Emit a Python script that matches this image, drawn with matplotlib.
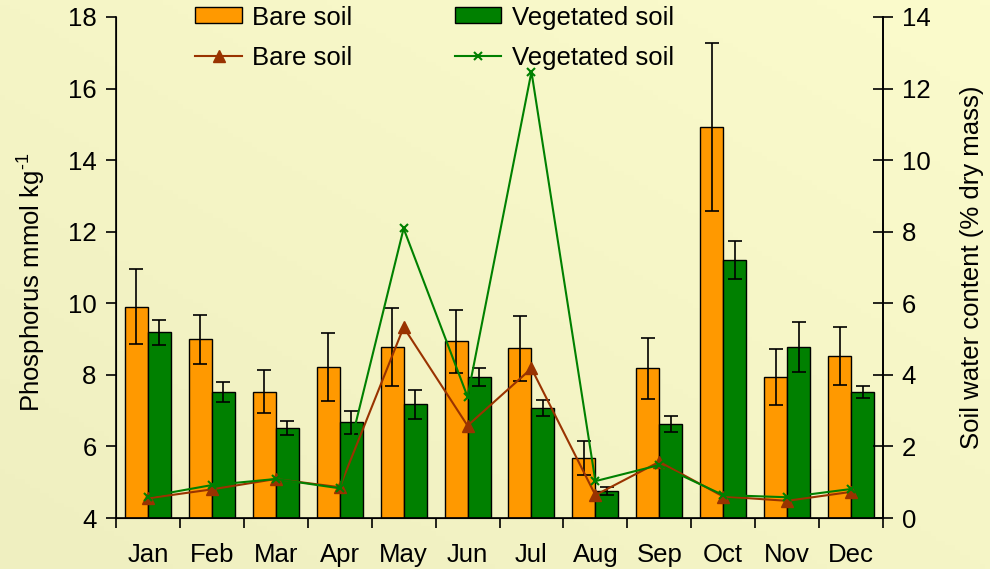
import numpy as np
import matplotlib
matplotlib.use("Agg")
import matplotlib.pyplot as plt
from matplotlib.colors import LinearSegmentedColormap

plt.rcParams['font.family'] = ['Liberation Sans', 'DejaVu Sans']
plt.rcParams['mathtext.fontset'] = 'custom'
plt.rcParams['mathtext.rm'] = 'Liberation Sans'

months = ["Jan", "Feb", "Mar", "Apr", "May", "Jun",
          "Jul", "Aug", "Sep", "Oct", "Nov", "Dec"]

# Phosphorus (mmol kg-1), mean and error
p_bare = [9.90, 8.99, 7.53, 8.23, 8.78, 8.94, 8.74, 5.67, 8.18, 14.92, 7.93, 8.53]
p_bare_err = [1.05, 0.68, 0.60, 0.95, 1.08, 0.88, 0.90, 0.48, 0.85, 2.35, 0.78, 0.80]
p_veg = [9.19, 7.53, 6.52, 6.67, 7.18, 7.93, 7.08, 4.76, 6.63, 11.21, 8.78, 7.53]
p_veg_err = [0.35, 0.28, 0.20, 0.31, 0.40, 0.25, 0.22, 0.12, 0.22, 0.52, 0.70, 0.17]

# Soil water content (% dry mass)
w_bare = [0.55, 0.80, 1.09, 0.86, 5.33, 2.58, 4.18, 0.64, 1.57, 0.60, 0.48, 0.73]
w_veg = [0.60, 0.92, 1.09, 0.83, 8.09, 3.39, 12.47, 1.03, 1.48, 0.64, 0.58, 0.81]

FS = 18.5
W, H = 990, 569
fig = plt.figure(figsize=(W / 100, H / 100), dpi=100)

# soft diagonal background
bg = fig.add_axes([0, 0, 1, 1], zorder=-10)
gx, gy = np.meshgrid(np.linspace(0, 1, 200), np.linspace(0, 1, 120))
grad = (gx * 0.5 + (1 - gy) * 0.5)
cmap = LinearSegmentedColormap.from_list("bgc", ["#EFEFC0", "#FBFBCC"])
bg.imshow(grad, cmap=cmap, aspect="auto", extent=[0, 1, 0, 1], origin="upper")
bg.axis("off")

ax = fig.add_axes([116 / W, 1 - 518 / H, (883 - 116) / W, (518 - 17) / H])
ax.patch.set_alpha(0)

x = np.arange(len(months))
bw = 0.36
err_kw = dict(ecolor="black", elinewidth=1.2, capsize=5, capthick=1.2)
b1 = ax.bar(x - bw / 2, np.array(p_bare) - 4, bw, bottom=4, color="#FF9900",
            edgecolor="black", linewidth=1.0, zorder=2)
b2 = ax.bar(x + bw / 2, np.array(p_veg) - 4, bw, bottom=4, color="#008000",
            edgecolor="black", linewidth=1.0, zorder=2)
ax.errorbar(x - bw / 2, p_bare, yerr=p_bare_err, fmt="none", zorder=3, **err_kw)
ax.errorbar(x + bw / 2, p_veg, yerr=p_veg_err, fmt="none", zorder=3, **err_kw)

ax.set_xlim(-0.5, len(months) - 0.5)
ax.set_ylim(4, 18)
ax.set_yticks(np.arange(4, 19, 2))
ax.set_xticks(x)
ax.set_xticklabels(months)
ax.set_xticks(np.arange(-0.5, len(months), 1.0), minor=True)
ax.tick_params(axis="x", which="major", length=0, pad=18, labelsize=FS)
ax.tick_params(axis="x", which="minor", length=7, width=1.2, direction="out")
ax.tick_params(axis="y", length=7, width=1.2, direction="out", pad=7, labelsize=FS)
ax.spines["top"].set_visible(False)
for s in ("left", "bottom", "right"):
    ax.spines[s].set_linewidth(1.2)
ax.set_ylabel(r"Phosphorus mmol kg$^{\mathregular{\text{-1}}}$", fontsize=FS)
ax.yaxis.set_label_coords(-0.0905, 0.47)

ax2 = ax.twinx()
ax2.set_ylim(0, 14)
ax2.set_yticks(np.arange(0, 15, 2))
ax2.tick_params(axis="y", length=15, width=1.2, direction="inout", pad=6, labelsize=FS)
ax2.spines["top"].set_visible(False)
ax2.spines["right"].set_linewidth(1.2)
ax2.set_ylabel("Soil water content (% dry mass)", fontsize=FS, labelpad=21)

l1, = ax2.plot(x, w_bare, color="#993300", linewidth=1.5, marker="^",
               markersize=9, markerfacecolor="#993300", markeredgecolor="#993300")
l2, = ax2.plot(x, w_veg, color="#008000", linewidth=1.5, marker="x",
               markersize=6, markeredgewidth=1.5)

leg = ax2.legend([b1, l1, b2, l2],
                 ["Bare soil", "Bare soil", "Vegetated soil", "Vegetated soil"],
                 ncol=2, loc="upper left", bbox_to_anchor=(0.0735, 1.069),
                 frameon=False, fontsize=FS, handlelength=1.8, handleheight=0.58,
                 handletextpad=0.4, columnspacing=4.0, labelspacing=0.63)

fig.savefig("out.png", dpi=100)
